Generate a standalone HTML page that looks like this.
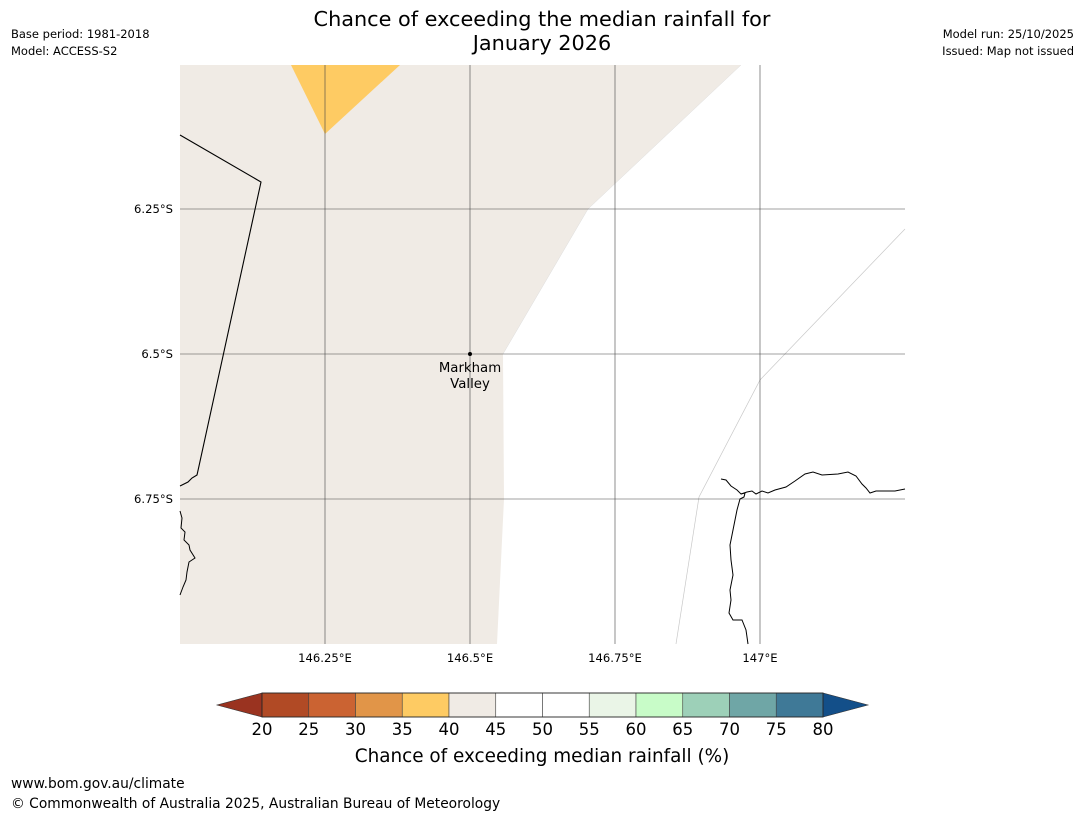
<!DOCTYPE html>
<html><head><meta charset="utf-8">
<style>
body{margin:0;background:#fff;width:1085px;height:816px;overflow:hidden;font-family:"Liberation Sans",sans-serif;}
svg text{font-family:"DejaVu Sans","Liberation Sans",sans-serif;}
</style></head>
<body>
<svg id="chart" width="1085" height="816" xmlns="http://www.w3.org/2000/svg">
<text x="542" y="26" font-size="20.8" text-anchor="middle">Chance of exceeding the median rainfall for</text>
<text x="542" y="50" font-size="20.8" text-anchor="middle">January 2026</text>
<text x="11" y="38" font-size="11.5">Base period: 1981-2018</text>
<text x="11" y="55" font-size="11.5">Model: ACCESS-S2</text>
<text x="1074" y="38" font-size="11.5" text-anchor="end">Model run: 25/10/2025</text>
<text x="1074" y="55" font-size="11.5" text-anchor="end">Issued: Map not issued</text>

<g>
<polygon points="180,65 741,65 588,209 503,354 504,499 497,644 180,644" fill="#f0ebe5"/>
<polygon points="291,65 400,65 325,134" fill="#fecb63"/>
<polyline points="676,644 699,497 760,380 905,229" fill="none" stroke="#c8c8c8" stroke-width="0.7"/>
<polyline points="741,65 588,209 503,354" fill="none" stroke="#ddd" stroke-width="0.5"/>
<g id="grid"></g>
<polyline points="180,135 261,182 199,466 197,475 192,478 188,482 180,486" fill="none" stroke="#000" stroke-width="1.1"/>
<polyline points="180,511 182,518 181,528 185,532 184,540 189,545 190,550 195,558 189,562 187,572 186,580 183,587 180,595" fill="none" stroke="#000" stroke-width="1"/>
<polyline points="721,479 726,480 731,486 737,490 741,494 745,493 744,497 740,499 737,510 734,525 730,545 731,560 733,575 730,590 731,600 729,613 733,620 742,620 746,630 748,644" fill="none" stroke="#000" stroke-width="1"/>
<polyline points="741,494 747,492 752,491 756,494 762,491 768,493 775,490 786,487 795,481 805,474 813,472 822,475 838,474 848,472 856,476 862,484 866,488 870,493 876,491 882,491 895,491 905,489" fill="none" stroke="#000" stroke-width="1"/>
<circle cx="470" cy="354" r="2" fill="#000"/>
<text x="470" y="372" font-size="13.3" text-anchor="middle">Markham</text>
<text x="470" y="388" font-size="13.3" text-anchor="middle">Valley</text>
</g>
<g id="cb"></g>
<text x="542" y="762" font-size="18.4" text-anchor="middle">Chance of exceeding median rainfall (%)</text>
<text x="11" y="788" font-size="13.8">www.bom.gov.au/climate</text>
<text x="11" y="808" font-size="13.8">© Commonwealth of Australia 2025, Australian Bureau of Meteorology</text>
</svg>
<script>
const lons=[146.25,146.5,146.75,147];
const lonLabels=["146.25°E","146.5°E","146.75°E","147°E"];
const lats=[-6.25,-6.5,-6.75];
const latLabels=["6.25°S","6.5°S","6.75°S"];
const cbTicks=[20,25,30,35,40,45,50,55,60,65,70,75,80];
const cbColors=["#b14a25","#cb6332","#e19548","#fecb63","#f0ebe5","#ffffff","#ffffff","#eaf5e7","#c8fcc8","#9dd0b8","#6fa6a6","#3f7997"];
const lowColor="#9a3320", highColor="#134f89";
const NS="http://www.w3.org/2000/svg";
const X0=180,X1=905,Y0=65,Y1=644;
const xLon=v=>325+(v-146.25)*580;
const yLat=v=>209+(-6.25-v)*580;
function mk(tag,attrs,parent){const e=document.createElementNS(NS,tag);for(const k in attrs)e.setAttribute(k,attrs[k]);parent.appendChild(e);return e;}
const grid=document.getElementById('grid');
lons.forEach((v,i)=>{const x=xLon(v);
 const l=mk('line',{x1:x,x2:x,y1:Y0,y2:Y1,stroke:'#444','stroke-width':0.6},grid);
 
 
 const t=mk('text',{x:x,y:662,'font-size':11.6,'text-anchor':'middle'},grid);t.textContent=lonLabels[i];
 
 });
lats.forEach((v,i)=>{const y=yLat(v);
 const l=mk('line',{x1:X0,x2:X1,y1:y,y2:y,stroke:'#444','stroke-width':0.6},grid);
 
 
 const t=mk('text',{x:173,y:y+4,'font-size':11.6,'text-anchor':'end'},grid);t.textContent=latLabels[i];
 
 });
const cb=document.getElementById('cb');
const cx0=262,cx1=823,cy0=693,cy1=717;
const xv=v=>cx0+(v-cbTicks[0])/(cbTicks[cbTicks.length-1]-cbTicks[0])*(cx1-cx0);
const lt=mk('polygon',{points:`${cx0},${cy0} ${cx0},${cy1} 217,705`,fill:lowColor,stroke:'#333','stroke-width':0.6},cb);


const ht=mk('polygon',{points:`${cx1},${cy0} ${cx1},${cy1} 868,705`,fill:highColor,stroke:'#333','stroke-width':0.6},cb);


cbColors.forEach((c,i)=>{const a=xv(cbTicks[i]),b=xv(cbTicks[i+1]);
 const r=mk('rect',{x:a,y:cy0,width:b-a,height:cy1-cy0,fill:c,stroke:'#444','stroke-width':0.6},cb);
 
 });
mk('rect',{x:cx0,y:cy0,width:cx1-cx0,height:cy1-cy0,fill:'none',stroke:'#222','stroke-width':0.8},cb);
cbTicks.forEach(v=>{const t=mk('text',{x:xv(v),y:735,'font-size':16.5,'text-anchor':'middle'},cb);t.textContent=v;
 
 });
</script>
</body></html>
